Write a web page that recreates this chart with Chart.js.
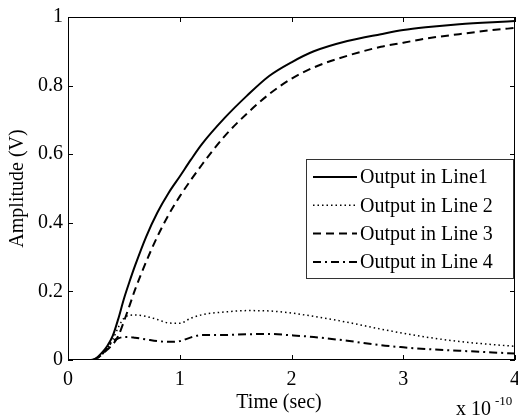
<!DOCTYPE html>
<html>
<head>
<meta charset="utf-8">
<script src="https://cdn.jsdelivr.net/npm/chart.js@4/dist/chart.umd.min.js"></script>
<style>
  html, body { margin: 0; padding: 0; background: #fff; }
  #wrap { width: 518px; height: 419px; position: relative; }
  #fontProbe { position: absolute; left: -9999px; top: 0; font: 20px "Liberation Serif"; }
</style>
</head>
<body>
<div id="wrap"><canvas id="ampChart" width="518" height="419"></canvas></div>
<span id="fontProbe">Output in Line 0.8</span>
<script>
/* time axis, in units of 1e-10 s */
const timeVals = [0, 0.1, 0.2, 0.25, 0.3, 0.35, 0.4, 0.45, 0.5, 0.55, 0.6, 0.7, 0.8, 0.9, 1.0, 1.1, 1.2, 1.4, 1.6, 1.8, 2.0, 2.2, 2.5, 2.8, 3.0, 3.2, 3.5, 3.8, 4.0];

const line1 = [0, 0, 0, 0.005, 0.02, 0.04, 0.07, 0.12, 0.178, 0.228, 0.275, 0.36, 0.43, 0.487, 0.535, 0.584, 0.63, 0.705, 0.77, 0.828, 0.868, 0.9, 0.93, 0.95, 0.962, 0.97, 0.979, 0.985, 0.988];
const line2 = [0, 0, 0, 0.004, 0.015, 0.035, 0.06, 0.095, 0.122, 0.13, 0.131, 0.127, 0.118, 0.108, 0.107, 0.122, 0.132, 0.14, 0.144, 0.143, 0.137, 0.127, 0.11, 0.09, 0.078, 0.067, 0.054, 0.045, 0.04];
const line3 = [0, 0, 0, 0.004, 0.015, 0.03, 0.045, 0.07, 0.112, 0.158, 0.205, 0.287, 0.36, 0.423, 0.477, 0.525, 0.57, 0.652, 0.718, 0.775, 0.82, 0.853, 0.887, 0.913, 0.925, 0.937, 0.95, 0.962, 0.968];
const line4 = [0, 0, 0, 0.004, 0.015, 0.035, 0.055, 0.063, 0.067, 0.067, 0.065, 0.06, 0.055, 0.053, 0.055, 0.066, 0.073, 0.073, 0.075, 0.076, 0.072, 0.067, 0.056, 0.043, 0.037, 0.032, 0.027, 0.022, 0.019];

const seriesLabels = ["Output in Line1", "Output in Line 2", "Output in Line 3", "Output in Line 4"];
const xTicks = [0, 1, 2, 3, 4];
const yTicks = [0, 0.2, 0.4, 0.6, 0.8, 1];

const FONT = "'Liberation Serif', 'Times New Roman', 'DejaVu Serif', serif";
const dashes = [[], [1.5, 3], [8, 5], [8, 4, 2, 4]];
const widths = [2, 1.5, 2, 2];

function toPoints(vals) {
  return timeVals.map((t, i) => ({ x: t, y: vals[i] }));
}

/* ---------------- box, inward ticks, legend, x label ---------------- */
const matlabFrame = {
  id: "matlabFrame",
  afterDraw(chart) {
    const { ctx, chartArea: { left, right, top, bottom }, scales: { x, y } } = chart;
    ctx.save();
    ctx.strokeStyle = "#000";
    ctx.lineWidth = 1;
    ctx.setLineDash([]);
    ctx.strokeRect(left + 0.5, top + 0.5, right - left - 1, bottom - top - 1);

    const tl = 5;
    ctx.beginPath();
    xTicks.forEach((v) => {
      const px = Math.round(x.getPixelForValue(v)) + 0.5;
      ctx.moveTo(px, bottom); ctx.lineTo(px, bottom - tl);
      ctx.moveTo(px, top); ctx.lineTo(px, top + tl);
    });
    yTicks.forEach((v) => {
      const py = Math.round(y.getPixelForValue(v)) + 0.5;
      ctx.moveTo(left, py); ctx.lineTo(left + tl, py);
      ctx.moveTo(right, py); ctx.lineTo(right - tl, py);
    });
    ctx.stroke();

    // legend
    const lw = 207, lh = 119;
    const lx = right - 209, ly = top + 142;
    ctx.fillStyle = "#fff";
    ctx.fillRect(lx, ly, lw, lh);
    ctx.strokeStyle = "#333";
    ctx.strokeRect(lx + 0.5, ly + 0.5, lw, lh);
    ctx.font = "20px " + FONT;
    ctx.textBaseline = "middle";
    ctx.textAlign = "left";
    chart.data.datasets.forEach((ds, i) => {
      const ry = ly + 18 + i * 28.3;
      ctx.strokeStyle = "#000";
      ctx.lineWidth = ds.borderWidth;
      ctx.setLineDash(ds.borderDash);
      ctx.beginPath();
      ctx.moveTo(lx + 7, ry);
      ctx.lineTo(lx + 51, ry);
      ctx.stroke();
      ctx.setLineDash([]);
      ctx.fillStyle = "#000";
      ctx.fillText(ds.label, lx + 54, ry + 1);
    });

    // x axis label + exponent
    ctx.textBaseline = "alphabetic";
    ctx.textAlign = "center";
    ctx.font = "20px " + FONT;
    ctx.fillText("Time (sec)", 279, 408);
    ctx.textAlign = "left";
    ctx.fillText("x 10", 456, 415);
    ctx.font = "13px " + FONT;
    ctx.fillText("-10", 495, 405);
    ctx.restore();
  }
};

function renderChart() {
  const canvas = document.getElementById("ampChart");
  Chart.defaults.font.family = FONT;
  Chart.defaults.color = "#000";

  new Chart(canvas, {
    type: "line",
    data: {
      datasets: [line1, line2, line3, line4].map((vals, i) => ({
        label: seriesLabels[i],
        data: toPoints(vals),
        borderColor: "#000",
        borderWidth: widths[i],
        borderDash: dashes[i],
        pointRadius: 0,
        cubicInterpolationMode: "monotone",
        fill: false
      }))
    },
    options: {
      responsive: false,
      animation: false,
      devicePixelRatio: 1,
      layout: { padding: { left: 0, top: 17, right: 3, bottom: 0 } },
      plugins: { legend: { display: false }, tooltip: { enabled: false } },
      scales: {
        x: {
          type: "linear",
          min: 0, max: 4,
          afterBuildTicks: (s) => { s.ticks = xTicks.map((v) => ({ value: v })); },
          afterFit: (s) => { s.height = 59; s.paddingLeft = 0; s.paddingRight = 0; },
          grid: { display: false, drawTicks: false },
          border: { display: false },
          ticks: { font: { size: 20 }, padding: 8, maxRotation: 0, callback: (v) => String(v) }
        },
        y: {
          type: "linear",
          min: 0, max: 1,
          afterBuildTicks: (s) => { s.ticks = yTicks.map((v) => ({ value: v })); },
          afterFit: (s) => { s.width = 68; s.paddingTop = 0; s.paddingBottom = 0; },
          grid: { display: false, drawTicks: false },
          border: { display: false },
          ticks: { font: { size: 20 }, padding: 5, callback: (v) => String(Number(v.toFixed(1))) },
          title: { display: true, text: "Amplitude (V)", font: { size: 20 }, padding: { top: 6, bottom: 0 } }
        }
      }
    },
    plugins: [matlabFrame]
  });
}

document.addEventListener("DOMContentLoaded", () => {
  const ready = document.fonts && document.fonts.load
    ? document.fonts.load("20px 'Liberation Serif'").catch(() => null)
    : Promise.resolve();
  ready.then(renderChart);
});
</script>
</body>
</html>
